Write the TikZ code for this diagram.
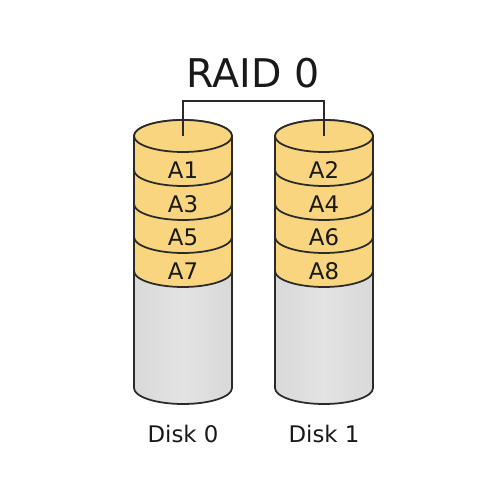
\documentclass[tikz,border=0pt]{standalone}
\usepackage{fontspec}
\setmainfont{DejaVu Sans}
\usepackage{tikz}
\usetikzlibrary{positioning, calc}

\definecolor{stripe}{HTML}{F8D57E}
\definecolor{edge}{HTML}{2A2A2A}

\begin{document}
\begin{tikzpicture}[
    band/.style={fill=stripe,draw=edge,line width=1pt},
    body/.style={draw=edge,line width=1pt,left color=gray!30,right color=gray!30,middle color=gray!22},
    lbl/.style={font=\fontsize{13}{16}\selectfont,text=black!90,inner sep=0pt}]
    \useasboundingbox (0,0) rectangle (10,10);

    % Title
    \node[font=\fontsize{22.5}{27}\selectfont,text=black!90] (title) at (5.06,8.54) {RAID 0};

    % Disks: empty part, then stripes from bottom to top
    \foreach \x/\d in {3.66/0,6.48/1}{
        \draw[body] (\x-0.98,4.58) -- (\x-0.98,2.24) arc[start angle=180,end angle=360,x radius=0.98,y radius=0.32]
            -- (\x+0.98,4.58) arc[start angle=0,end angle=180,x radius=0.98,y radius=0.32] -- cycle;
        \foreach \t/\b in {5.26/4.58,5.92/5.26,6.60/5.92,7.28/6.60}{
            \draw[band] (\x-0.98,\t) -- (\x-0.98,\b) arc[start angle=180,end angle=360,x radius=0.98,y radius=0.32]
                -- (\x+0.98,\t) arc[start angle=0,end angle=180,x radius=0.98,y radius=0.32] -- cycle;
        }
        \draw[band] (\x,7.28) ellipse[x radius=0.98,y radius=0.32];
        \coordinate (top\d) at (\x,7.28);
        \node[font=\fontsize{13}{16}\selectfont,text=black!90] (disk\d) at (\x,1.32) {Disk \d};
    }

    % Stripe labels
    \node[lbl] (a1) at (3.66,6.60) {A1};
    \node[lbl] (a3) at (3.66,5.92) {A3};
    \node[lbl] (a5) at (3.66,5.26) {A5};
    \node[lbl] (a7) at (3.66,4.58) {A7};
    \node[lbl] (a2) at (6.48,6.60) {A2};
    \node[lbl] (a4) at (6.48,5.92) {A4};
    \node[lbl] (a6) at (6.48,5.26) {A6};
    \node[lbl] (a8) at (6.48,4.58) {A8};

    % Connector to both disks
    \draw[edge,line width=0.7pt] (top0) -- ++(0,0.70) -| (top1);
\end{tikzpicture}
\end{document}
